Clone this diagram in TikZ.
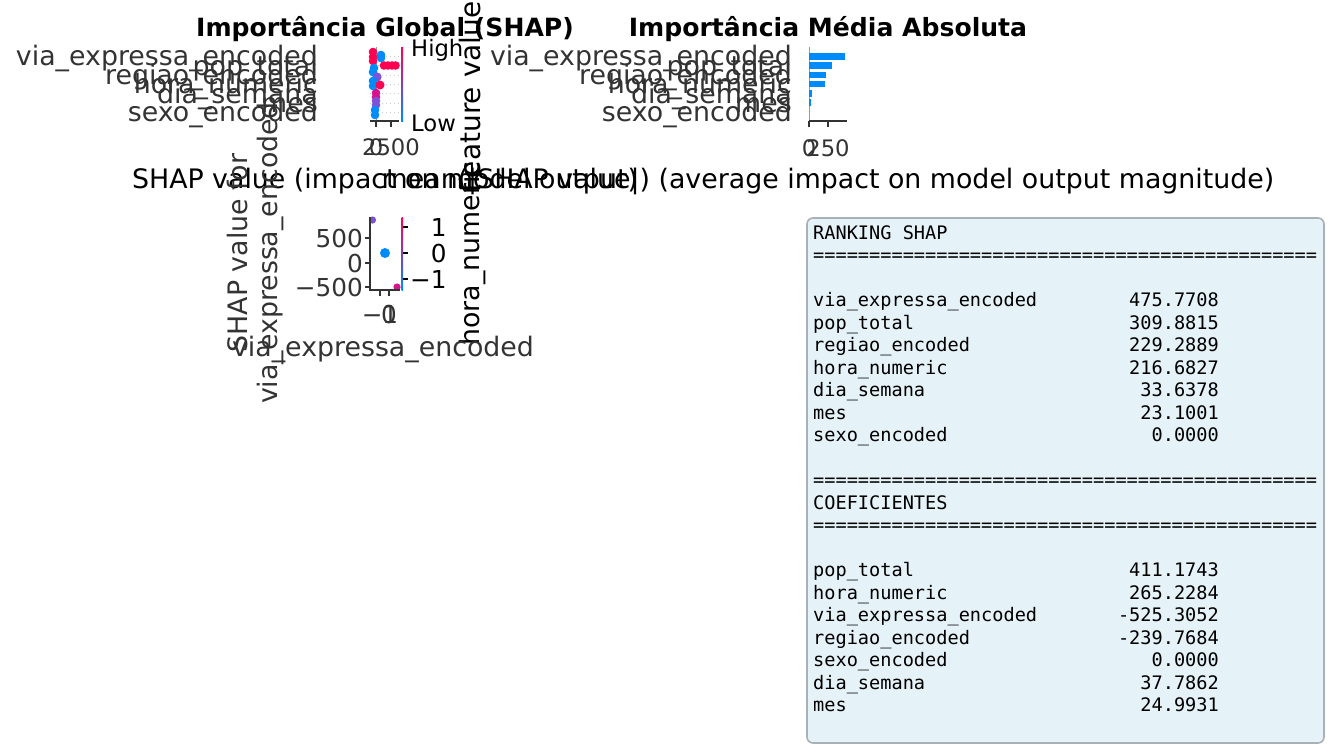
\documentclass[tikz,border=0pt]{standalone}
\usepackage{fontspec}
\setmainfont{DejaVu Sans}
\newfontfamily\monofont{DejaVu Sans Mono}
\usetikzlibrary{positioning}
\definecolor{shapred}{HTML}{FF0052}
\definecolor{shapblue}{HTML}{008BFB}
\definecolor{shappurple}{HTML}{8A3CCC}
\definecolor{dotpurple}{HTML}{7D52D6}
\definecolor{dotmagenta}{HTML}{D6128F}
\definecolor{axisgray}{HTML}{333333}
\definecolor{gridgray}{HTML}{CCCCCC}
\definecolor{zerogray}{HTML}{999999}
\definecolor{boxfill}{HTML}{E5F2F7}
\definecolor{boxedge}{HTML}{A8B1B5}
\newcommand{\eqfive}{=====}
\newcommand{\eqrule}{\eqfive\eqfive\eqfive\eqfive\eqfive\eqfive\eqfive\eqfive\eqfive}
\tikzset{
  spine/.style    = { axisgray, line width=1.4pt },
  rowline/.style  = { gridgray, line width=0.8pt, dash pattern=on 1pt off 3pt },
  bar/.style      = { fill=shapblue },
  titletext/.style = { inner sep=0pt, font=\bfseries\fontsize{25.1}{30}\selectfont },
  ylabtext/.style  = { inner sep=0pt, text=axisgray, font=\fontsize{26.8}{32}\selectfont },
  ticktext/.style  = { inner sep=0pt, text=axisgray, font=\fontsize{22.7}{27}\selectfont },
  depticktext/.style = { inner sep=0pt, text=axisgray, font=\fontsize{24.7}{30}\selectfont },
  cbtext/.style    = { inner sep=0pt, font=\fontsize{22.7}{27}\selectfont },
  axtext/.style    = { inner sep=0pt, font=\fontsize{26.8}{32}\selectfont },
  monotext/.style  = { inner sep=0pt, font=\monofont\fontsize{18.6}{22}\selectfont },
  infobox/.style   = { draw=boxedge, fill=boxfill, line width=1.6pt, rounded corners=6pt }
}

\begin{document}
\begin{tikzpicture}[x=1pt,y=-1pt]
  \useasboundingbox (0,0) rectangle (1334,753);

  % Global importance (beeswarm)
  \node[titletext, anchor=base] (title1) at (385,36.5) {Importância Global (SHAP)};
  \foreach \r in {56.3,65.6,75.0,84.3,93.6,103.0,112.3}
    \draw[rowline] (370,\r) -- (399,\r);
  \draw[zerogray, line width=1pt] (376,47) -- (376,121);
  \fill[shapred]    (373,52) circle (4.3pt) (373,57) circle (4.3pt) (373,61) circle (4.3pt);
  \fill[shapblue]   (381,55) circle (4.3pt) (381,58) circle (4.3pt);
  \fill[shapred]    (384,65.5) circle (4.3pt) (388,65.5) circle (4.3pt)
                    (392,65.5) circle (4.3pt) (395.5,65.5) circle (4.3pt);
  \fill[shapblue]   (374,68) circle (4.3pt) (373,72) circle (4.3pt);
  \fill[dotpurple]  (377,77) circle (4.6pt);
  \fill[shapblue]   (373,81) circle (4.3pt) (373,86) circle (4.3pt);
  \fill[shapred]    (380,85) circle (4.5pt);
  \fill[dotmagenta] (376,93) circle (4.3pt) (376,97) circle (4.3pt);
  \fill[dotpurple]  (376,101) circle (4.3pt) (376,105) circle (4.3pt);
  \fill[shapblue]   (375,110) circle (4.3pt) (375,115) circle (4.3pt);
  \draw[spine] (370,121) -- (399,121);
  \draw[spine] (376,121) -- (376,127) (391,121) -- (391,127);
  \node[ticktext, anchor=base] (x1a) at (376,155) {0};
  \node[ticktext, anchor=base] (x1b) at (391,155) {2500};
  \shade[top color=shapred, middle color=shappurple, bottom color=shapblue] (401,47) rectangle (403,121);
  \node[cbtext, anchor=base west] (high) at (411,56) {High};
  \node[cbtext, anchor=base west] (low) at (411,131) {Low};
  \node[axtext, rotate=90, font=\fontsize{28}{33}\selectfont] (fval) at (470,97) {Feature value};
  \node[axtext, anchor=base] (xlab1) at (385,188) {SHAP value (impact on model output)};

  \node[ylabtext, anchor=base east] (a1) at (318,65.7)  {via\_expressa\_encoded};
  \node[ylabtext, anchor=base east] (a2) at (318,75.0)  {pop\_total};
  \node[ylabtext, anchor=base east] (a3) at (318,84.3)  {regiao\_encoded};
  \node[ylabtext, anchor=base east] (a4) at (318,93.7)  {hora\_numeric};
  \node[ylabtext, anchor=base east] (a5) at (318,103.0) {dia\_semana};
  \node[ylabtext, anchor=base east] (a6) at (318,112.4) {mes};
  \node[ylabtext, anchor=base east] (a7) at (318,121.7) {sexo\_encoded};

  % Mean absolute importance (bars)
  \node[titletext, anchor=base] (title2) at (828,36.5) {Importância Média Absoluta};
  \draw[zerogray, line width=1pt] (809,47) -- (809,121);
  \fill[bar] (809,53.3) rectangle (845,60.0);
  \fill[bar] (809,62.4) rectangle (832,69.1);
  \fill[bar] (809,71.6) rectangle (826,78.3);
  \fill[bar] (809,80.7) rectangle (825,87.4);
  \fill[bar] (809,89.8) rectangle (812,96.5);
  \fill[bar] (809,99.0) rectangle (811,105.7);
  \draw[spine] (809,121) -- (847,121);
  \draw[spine] (809,121) -- (809,127) (828,121) -- (828,127);
  \node[ticktext, anchor=base] (x2a) at (809,156) {0};
  \node[ticktext, anchor=base] (x2b) at (828,156) {250};
  \node[axtext, anchor=base] (xlab2) at (828,188) {mean(|SHAP value|) (average impact on model output magnitude)};

  \node[ylabtext, anchor=base east] (b1) at (792,65.7)  {via\_expressa\_encoded};
  \node[ylabtext, anchor=base east] (b2) at (792,75.0)  {pop\_total};
  \node[ylabtext, anchor=base east] (b3) at (792,84.3)  {regiao\_encoded};
  \node[ylabtext, anchor=base east] (b4) at (792,93.7)  {hora\_numeric};
  \node[ylabtext, anchor=base east] (b5) at (792,103.0) {dia\_semana};
  \node[ylabtext, anchor=base east] (b6) at (792,112.4) {mes};
  \node[ylabtext, anchor=base east] (b7) at (792,121.7) {sexo\_encoded};

  % Dependence plot
  \fill[dotpurple]  (372.5,220) circle (3.6pt);
  \fill[shapblue]   (385,253) circle (5pt);
  \fill[dotmagenta] (397,287) circle (3.6pt);
  \draw[spine] (370,217) -- (370,290) -- (400,290);
  \draw[spine] (365,238) -- (370,238) (365,263) -- (370,263) (365,287) -- (370,287);
  \draw[spine] (380,290) -- (380,296) (389,290) -- (389,296);
  \node[depticktext, anchor=base east] (y3a) at (363,247) {500};
  \node[depticktext, anchor=base east] (y3b) at (363,272) {0};
  \node[depticktext, anchor=base east] (y3c) at (363,296) {−500};
  \node[depticktext, anchor=base] (x3a) at (380,323) {−1};
  \node[depticktext, anchor=base] (x3b) at (389,323) {0};
  \shade[top color=shapred, middle color=shappurple, bottom color=shapblue] (401.5,217) rectangle (403,290);
  \draw[black, line width=1.2pt] (403,227) -- (408,227) (403,253) -- (408,253) (403,279) -- (408,279);
  \node[cbtext, anchor=base west, font=\fontsize{24.7}{30}\selectfont] (c1) at (410,236) {\phantom{−}1};
  \node[cbtext, anchor=base west, font=\fontsize{24.7}{30}\selectfont] (c2) at (410,262) {\phantom{−}0};
  \node[cbtext, anchor=base west, font=\fontsize{24.7}{30}\selectfont] (c3) at (410,288) {−1};
  \node[axtext, rotate=90] (hora) at (472,253.5) {hora\_numeric};
  \node[ylabtext, rotate=90] (ylab3a) at (238,253) {SHAP value for};
  \node[ylabtext, rotate=90] (ylab3b) at (270,253) {via\_expressa\_encoded};
  \node[ylabtext, anchor=base] (xlab3) at (383,356) {via\_expressa\_encoded};

  % Ranking text box
  \draw[infobox] (807,218) rectangle (1324,743);
  \node[monotext, anchor=base west] (rk)  at (813,239.0) {RANKING SHAP};
  \node[monotext, anchor=base west] (eq1) at (813,261.5) {\eqrule};
  \node[monotext, anchor=base west] (r1n) at (813,306.6) {via\_expressa\_encoded};
  \node[monotext, anchor=base west] (r2n) at (813,329.1) {pop\_total};
  \node[monotext, anchor=base west] (r3n) at (813,351.6) {regiao\_encoded};
  \node[monotext, anchor=base west] (r4n) at (813,374.1) {hora\_numeric};
  \node[monotext, anchor=base west] (r5n) at (813,396.6) {dia\_semana};
  \node[monotext, anchor=base west] (r6n) at (813,419.1) {mes};
  \node[monotext, anchor=base west] (r7n) at (813,441.7) {sexo\_encoded};
  \node[monotext, anchor=base east] (r1v) at (1219,306.6) {475.7708};
  \node[monotext, anchor=base east] (r2v) at (1219,329.1) {309.8815};
  \node[monotext, anchor=base east] (r3v) at (1219,351.6) {229.2889};
  \node[monotext, anchor=base east] (r4v) at (1219,374.1) {216.6827};
  \node[monotext, anchor=base east] (r5v) at (1219,396.6) {33.6378};
  \node[monotext, anchor=base east] (r6v) at (1219,419.1) {23.1001};
  \node[monotext, anchor=base east] (r7v) at (1219,441.7) {0.0000};
  \node[monotext, anchor=base west] (eq2) at (813,486.7) {\eqrule};
  \node[monotext, anchor=base west] (cf)  at (813,509.2) {COEFICIENTES};
  \node[monotext, anchor=base west] (eq3) at (813,531.7) {\eqrule};
  \node[monotext, anchor=base west] (c1n) at (813,576.8) {pop\_total};
  \node[monotext, anchor=base west] (c2n) at (813,599.3) {hora\_numeric};
  \node[monotext, anchor=base west] (c3n) at (813,621.8) {via\_expressa\_encoded};
  \node[monotext, anchor=base west] (c4n) at (813,644.3) {regiao\_encoded};
  \node[monotext, anchor=base west] (c5n) at (813,666.8) {sexo\_encoded};
  \node[monotext, anchor=base west] (c6n) at (813,689.3) {dia\_semana};
  \node[monotext, anchor=base west] (c7n) at (813,711.9) {mes};
  \node[monotext, anchor=base east] (c1v) at (1219,576.8) {411.1743};
  \node[monotext, anchor=base east] (c2v) at (1219,599.3) {265.2284};
  \node[monotext, anchor=base east] (c3v) at (1219,621.8) {-525.3052};
  \node[monotext, anchor=base east] (c4v) at (1219,644.3) {-239.7684};
  \node[monotext, anchor=base east] (c5v) at (1219,666.8) {0.0000};
  \node[monotext, anchor=base east] (c6v) at (1219,689.3) {37.7862};
  \node[monotext, anchor=base east] (c7v) at (1219,711.9) {24.9931};
\end{tikzpicture}
\end{document}
